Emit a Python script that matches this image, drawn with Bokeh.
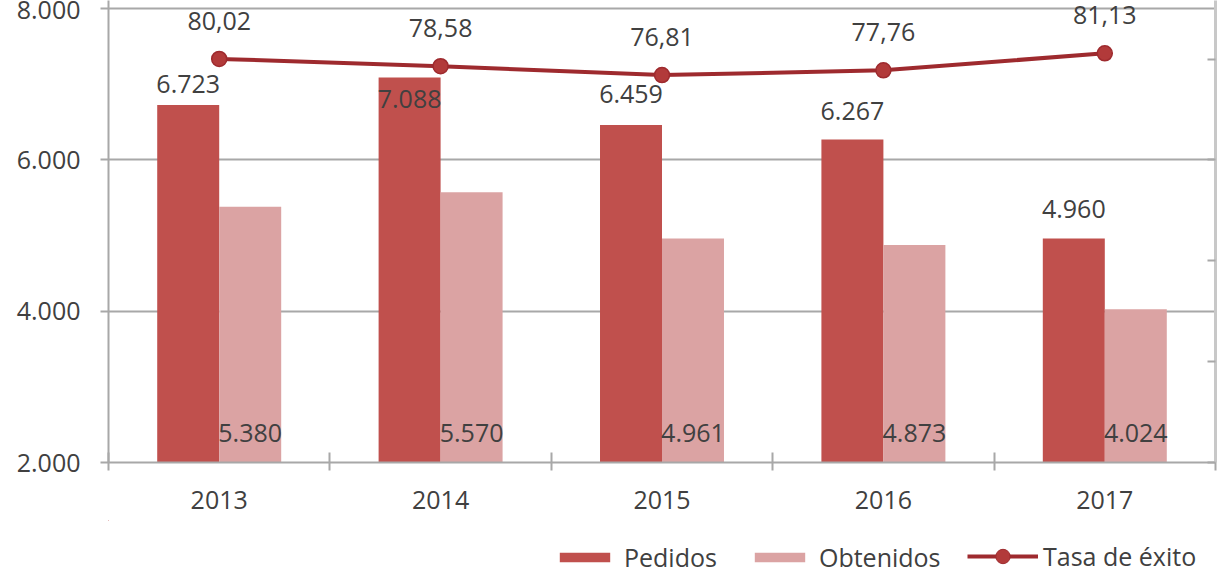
from bokeh.plotting import figure
from bokeh.layouts import column
from bokeh.models import (ColumnDataSource, FixedTicker, LinearAxis, Range1d,
                          Legend, LegendItem, CustomJSTickFormatter)
from bokeh.transform import dodge
from bokeh.core.properties import value
from bokeh.embed import file_html
from bokeh.resources import INLINE

# ---- data ----
years = ["2013", "2014", "2015", "2016", "2017"]
pedidos = [6723, 7088, 6459, 6267, 4960]
obtenidos = [5380, 5570, 4961, 4873, 4024]
tasa = [80.02, 78.58, 76.81, 77.76, 81.13]
left_ticks = [2000, 4000, 6000, 8000]
left_tick_labels = ["2.000", "4.000", "6.000", "8.000"]
right_ticks = [0, 20, 40, 60, 80]
series_names = ["Pedidos", "Obtenidos", "Tasa de éxito"]

# label offsets (screen px, style only)
pedidos_label_offset = [-21, 22, -31, -29, -30]

FONT = "Open Sans"
TXT = "#404040"
C_PED = "#C0504D"
C_OBT = "#DBA3A3"
C_LINE = "#9E2A2E"
C_MARK = "#B23A3A"
GRID = "#A8A8A8"

def fmt_int(v):
    return f"{v:,}".replace(",", ".")

def fmt_dec(v):
    return f"{v:.2f}".replace(".", ",")

idx = list(range(len(years)))
src = ColumnDataSource(dict(
    xc=idx,
    pedidos=pedidos,
    obtenidos=obtenidos,
    tasa=tasa,
    obt_lbl=[fmt_int(v) for v in obtenidos],
    tasa_lbl=[fmt_dec(v) for v in tasa],
    base=[left_ticks[0]] * len(years),
))

p = figure(width=1218, height=520, output_backend="svg", toolbar_location=None,
           x_range=Range1d(-0.5, len(years) - 0.5),
           y_range=Range1d(left_ticks[0], 8105),
           min_border_left=108, min_border_right=3, min_border_top=0,
           min_border_bottom=58)
p.outline_line_color = None
p.background_fill_color = "white"
p.border_fill_color = "white"
p.extra_y_ranges = {"right": Range1d(0, 91.6)}

bw = 0.28
bar_ped = dict(fill_color=C_PED, line_color=None)
bar_obt = dict(fill_color=C_OBT, line_color=None)
line_sty = dict(line_color=C_LINE, line_width=4)
mark_sty = dict(size=15, fill_color=C_MARK, line_color=C_LINE, line_width=1.5)

p.vbar(x=dodge("xc", -bw / 2, range=p.x_range), top="pedidos", bottom="base",
       width=bw, source=src, **bar_ped)
p.vbar(x=dodge("xc", bw / 2, range=p.x_range), top="obtenidos", bottom="base",
       width=bw, source=src, **bar_obt)
p.line(x="xc", y="tasa", source=src, y_range_name="right", **line_sty)
p.scatter(x="xc", y="tasa", source=src, y_range_name="right", **mark_sty)

# labels
for i in idx:
    p.text(x=[i - bw / 2], y=[pedidos[i]], text=[fmt_int(pedidos[i])],
           y_offset=pedidos_label_offset[i], text_align="center", text_baseline="middle",
           text_font=value(FONT), text_font_size="25px", text_color=TXT)
p.text(x=dodge("xc", bw / 2, range=p.x_range), y="base", text="obt_lbl", source=src,
       y_offset=-30, text_align="center", text_baseline="middle",
       text_font=value(FONT), text_font_size="25px", text_color=TXT)
p.text(x="xc", y="tasa", text="tasa_lbl", source=src, y_range_name="right",
       y_offset=-38, text_align="center", text_baseline="middle",
       text_font=value(FONT), text_font_size="25px", text_color=TXT)

# x axis
xa = p.xaxis[0]
xa.ticker = FixedTicker(ticks=idx, minor_ticks=[i - 0.5 for i in range(len(years) + 1)])
xa.major_label_overrides = {i: years[i] for i in idx}
xa.major_tick_line_color = None
xa.major_tick_in = 0
xa.major_tick_out = 0
xa.minor_tick_in = 10
xa.minor_tick_out = 8
xa.minor_tick_line_color = GRID
xa.minor_tick_line_width = 2
xa.axis_line_color = GRID
xa.axis_line_width = 2
xa.major_label_standoff = 20
xa.major_label_text_font = FONT
xa.major_label_text_font_size = "25px"
xa.major_label_text_color = TXT
p.xgrid.grid_line_color = None

# left axis
ya = p.yaxis[0]
ya.ticker = FixedTicker(ticks=left_ticks, minor_ticks=[])
ya.major_label_overrides = {t: l for t, l in zip(left_ticks, left_tick_labels)}
ya.major_tick_in = 0
ya.major_tick_out = 8
ya.major_tick_line_color = GRID
ya.major_tick_line_width = 2
ya.minor_tick_line_color = None
ya.axis_line_color = GRID
ya.axis_line_width = 2
ya.major_label_standoff = 20
ya.major_label_text_font = FONT
ya.major_label_text_font_size = "25px"
ya.major_label_text_color = TXT
p.ygrid.ticker = FixedTicker(ticks=left_ticks)
p.ygrid.grid_line_color = GRID
p.ygrid.grid_line_width = 2

# right axis (its labels fall outside the visible window in the reference)
ra = LinearAxis(y_range_name="right", ticker=FixedTicker(ticks=right_ticks, minor_ticks=[]))
ra.formatter = CustomJSTickFormatter(code="return ''")
ra.major_label_standoff = 0
ra.major_tick_in = 8
ra.major_tick_out = 0
ra.major_tick_line_color = GRID
ra.major_tick_line_width = 2
ra.minor_tick_line_color = None
ra.axis_line_color = "#C8C8C8"
ra.axis_line_width = 3
p.add_layout(ra, "right")

# ---- legend strip (its renderers share the data, kept out of its view) ----
lf = figure(width=1218, height=59, output_backend="svg", toolbar_location=None,
            x_range=Range1d(100, 101), y_range=Range1d(-10, -9),
            x_axis_location=None, y_axis_location=None,
            min_border_left=0, min_border_right=0, min_border_top=0, min_border_bottom=0)
lf.outline_line_color = None
lf.grid.grid_line_color = None
lf.background_fill_color = "white"
lf.border_fill_color = "white"
l_ped = lf.vbar(x="xc", top="pedidos", bottom="base", width=bw, source=src, **bar_ped)
l_obt = lf.vbar(x="xc", top="obtenidos", bottom="base", width=bw, source=src, **bar_obt)
l_line = lf.line(x="xc", y="tasa", source=src, **line_sty)
l_mark = lf.scatter(x="xc", y="tasa", source=src, **dict(mark_sty, line_width=1))

def style_legend(lg):
    lg.padding = 0
    lg.margin = 0
    lg.border_line_color = None
    lg.background_fill_alpha = 0
    lg.label_text_font = FONT
    lg.label_text_font_size = "25px"
    lg.label_text_color = TXT
    lg.orientation = "horizontal"

# the column aligns this strip's frame with the chart's frame (left border 108)
legA = Legend(items=[LegendItem(label=series_names[0], renderers=[l_ped]),
                     LegendItem(label=series_names[1], renderers=[l_obt])],
              location=(445, 5))
style_legend(legA)
legA.glyph_width = 63
legA.glyph_height = 12
legA.label_standoff = 8
legA.spacing = 31

legB = Legend(items=[LegendItem(label=series_names[2], renderers=[l_line, l_mark])],
              location=(859, 5))
style_legend(legB)
legB.glyph_width = 71
legB.glyph_height = 36
legB.label_standoff = 5

lf.add_layout(legA)
lf.add_layout(legB)

layout = column(p, lf, spacing=0)
open("out.html", "w").write(file_html(layout, INLINE))
